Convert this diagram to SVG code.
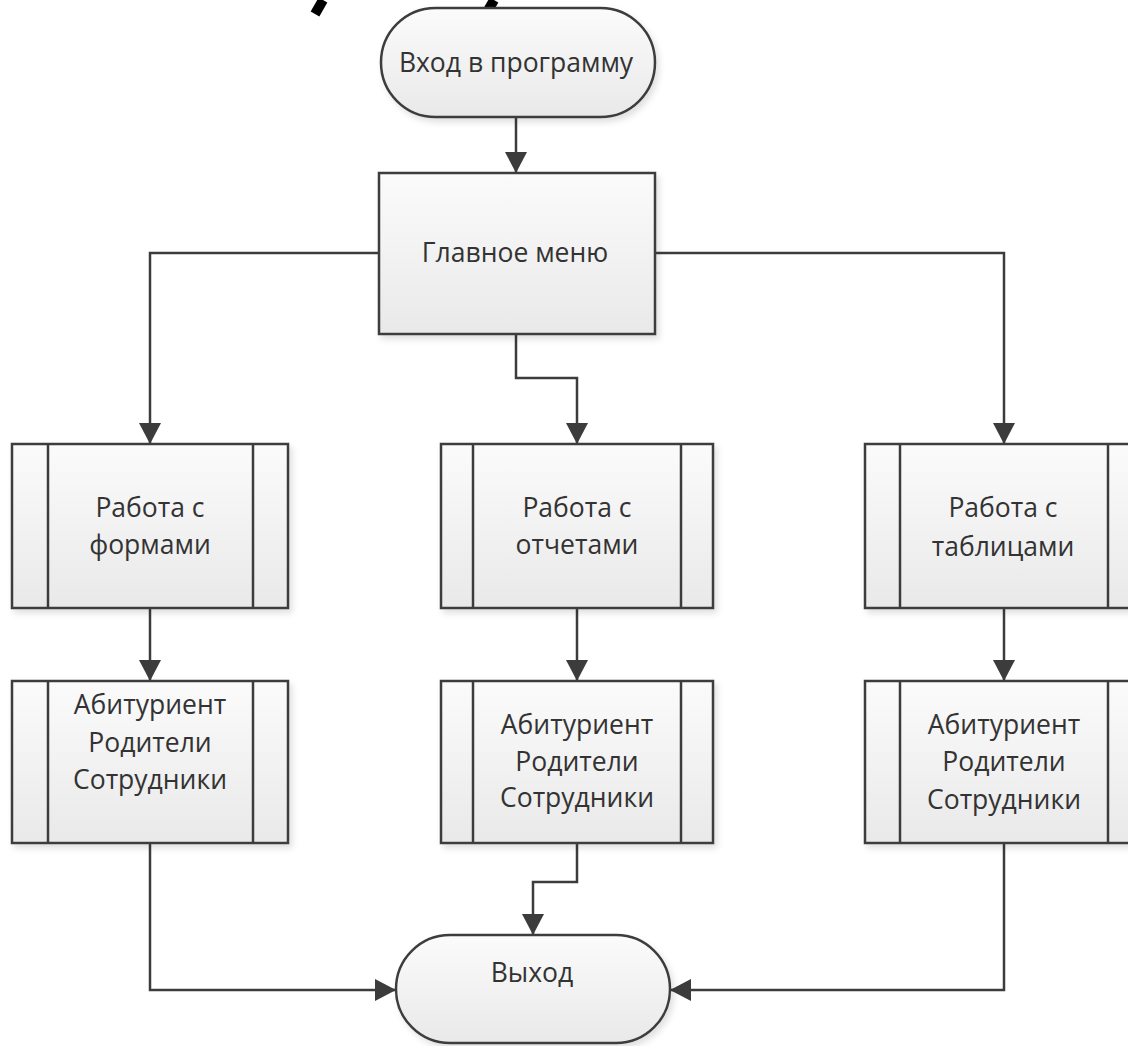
<svg xmlns="http://www.w3.org/2000/svg" width="1128" height="1046" viewBox="0 0 1128 1046">
<style>
.shape{fill:url(#g);stroke:#3c3c3c;stroke-width:2.5;filter:url(#sh)}
.inner{stroke:#3c3c3c;stroke-width:2.5;fill:none}
.lbl{font-family:"Open Sans","Liberation Sans",sans-serif;font-size:26.5px;fill:#333;text-anchor:middle}
.conn{fill:none;stroke:#3c3c3c;stroke-width:2.5}
.frag{stroke:#000;stroke-width:10;fill:none}
</style>
<defs>
<linearGradient id="g" x1="0" y1="0" x2="0" y2="1">
<stop offset="0" stop-color="#fbfbfb"/>
<stop offset="1" stop-color="#e9e9e9"/>
</linearGradient>
<filter id="sh" x="-10%" y="-10%" width="120%" height="130%">
<feDropShadow dx="3" dy="4" stdDeviation="3" flood-color="#000" flood-opacity="0.12"/>
</filter>
<marker id="ah" markerUnits="userSpaceOnUse" markerWidth="22" markerHeight="22" refX="21" refY="11" orient="auto">
<path d="M0,0 L21,11 L0,22 z" fill="#3c3c3c"/>
</marker>
</defs>
<rect width="1128" height="1046" fill="#fff"/>
<g id="title-fragments">
<line class="frag" x1="315" y1="14" x2="323" y2="0"/>
<line class="frag" x1="486" y1="14" x2="494" y2="0"/>
</g>
<g id="connectors">
<path class="conn" d="M516,117 V173" marker-end="url(#ah)"/>
<path class="conn" d="M379,253 H150 V444" marker-end="url(#ah)"/>
<path class="conn" d="M516,334 V378 H577 V444" marker-end="url(#ah)"/>
<path class="conn" d="M655,253 H1004 V444" marker-end="url(#ah)"/>
<path class="conn" d="M150,608 V681" marker-end="url(#ah)"/>
<path class="conn" d="M577,608 V681" marker-end="url(#ah)"/>
<path class="conn" d="M1004,608 V681" marker-end="url(#ah)"/>
<path class="conn" d="M150,843 V990 H396" marker-end="url(#ah)"/>
<path class="conn" d="M577,843 V882 H533 V935" marker-end="url(#ah)"/>
<path class="conn" d="M1004,843 V990 H670" marker-end="url(#ah)"/>
</g>
<g id="start">
<rect class="shape" x="381" y="8" width="274" height="109" rx="54.5" ry="54.5"/>
<text class="lbl" x="516" y="72">Вход в программу</text>
</g>
<g id="menu">
<rect class="shape" x="379" y="173" width="276" height="161"/>
<text class="lbl" x="515" y="262">Главное меню</text>
</g>
<g id="forms">
<rect class="shape" x="12" y="444" width="276" height="164"/>
<line class="inner" x1="48" y1="444" x2="48" y2="608"/>
<line class="inner" x1="253" y1="444" x2="253" y2="608"/>
<text class="lbl" x="150" y="517">Работа с</text>
<text class="lbl" x="150" y="554">формами</text>
</g>
<g id="reports">
<rect class="shape" x="441" y="444" width="272" height="164"/>
<line class="inner" x1="473" y1="444" x2="473" y2="608"/>
<line class="inner" x1="681" y1="444" x2="681" y2="608"/>
<text class="lbl" x="577" y="517">Работа с</text>
<text class="lbl" x="577" y="554">отчетами</text>
</g>
<g id="tables">
<rect class="shape" x="865" y="444" width="277" height="164"/>
<line class="inner" x1="900" y1="444" x2="900" y2="608"/>
<line class="inner" x1="1108" y1="444" x2="1108" y2="608"/>
<text class="lbl" x="1003" y="517">Работа с</text>
<text class="lbl" x="1003" y="556">таблицами</text>
</g>
<g id="forms-list">
<rect class="shape" x="12" y="681" width="276" height="162"/>
<line class="inner" x1="48" y1="681" x2="48" y2="843"/>
<line class="inner" x1="253" y1="681" x2="253" y2="843"/>
<text class="lbl" x="150" y="714">Абитуриент</text>
<text class="lbl" x="150" y="752">Родители</text>
<text class="lbl" x="150" y="789">Сотрудники</text>
</g>
<g id="reports-list">
<rect class="shape" x="441" y="681" width="272" height="162"/>
<line class="inner" x1="473" y1="681" x2="473" y2="843"/>
<line class="inner" x1="681" y1="681" x2="681" y2="843"/>
<text class="lbl" x="577" y="734">Абитуриент</text>
<text class="lbl" x="577" y="771">Родители</text>
<text class="lbl" x="577" y="807">Сотрудники</text>
</g>
<g id="tables-list">
<rect class="shape" x="865" y="681" width="277" height="162"/>
<line class="inner" x1="900" y1="681" x2="900" y2="843"/>
<line class="inner" x1="1108" y1="681" x2="1108" y2="843"/>
<text class="lbl" x="1004" y="734">Абитуриент</text>
<text class="lbl" x="1004" y="771">Родители</text>
<text class="lbl" x="1004" y="809">Сотрудники</text>
</g>
<g id="exit">
<rect class="shape" x="396" y="935" width="274" height="108" rx="54" ry="54"/>
<text class="lbl" x="532" y="982">Выход</text>
</g>
</svg>
